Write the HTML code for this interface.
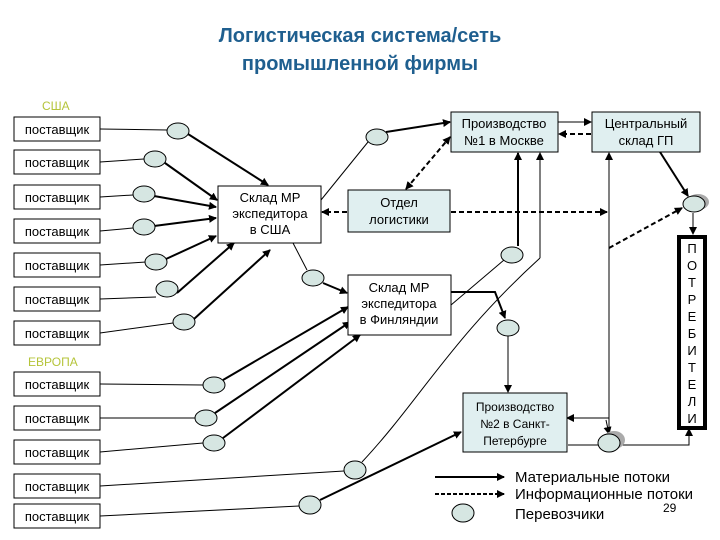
<!DOCTYPE html>
<html><head><meta charset="utf-8"><style>
body{margin:0;background:#fff}
svg{display:block}
text{font-family:"Liberation Sans",sans-serif}
</style></head><body>
<svg width="720" height="540" viewBox="0 0 720 540" xmlns="http://www.w3.org/2000/svg">
<defs>
<marker id="a" markerWidth="8" markerHeight="8" refX="7" refY="4" orient="auto" markerUnits="userSpaceOnUse"><path d="M0,0 L8,4 L0,8 z" fill="#000"/></marker>
<marker id="as" markerWidth="8" markerHeight="8" refX="1" refY="4" orient="auto" markerUnits="userSpaceOnUse"><path d="M8,0 L0,4 L8,8 z" fill="#000"/></marker>
</defs>
<rect width="720" height="540" fill="#fff"/>
<text x="360" y="42" text-anchor="middle" font-size="20" font-weight="bold" fill="#1f5f8f">Логистическая система/сеть</text>
<text x="360" y="70" text-anchor="middle" font-size="20" font-weight="bold" fill="#1f5f8f">промышленной фирмы</text>
<text x="42" y="110" font-size="12" fill="#b5c43a">США</text>
<text x="28" y="366" font-size="12" fill="#b5c43a">ЕВРОПА</text>
<g fill="#fff" stroke="#000" stroke-width="1">
<rect x="14" y="117" width="86" height="24"/><rect x="14" y="150" width="86" height="24"/>
<rect x="14" y="185" width="86" height="24"/><rect x="14" y="219" width="86" height="24"/>
<rect x="14" y="253" width="86" height="24"/><rect x="14" y="287" width="86" height="24"/>
<rect x="14" y="321" width="86" height="24"/>
<rect x="14" y="372" width="86" height="24"/><rect x="14" y="406" width="86" height="24"/>
<rect x="14" y="440" width="86" height="24"/><rect x="14" y="474" width="86" height="24"/>
<rect x="14" y="504" width="86" height="24"/>
</g>
<g font-size="13" text-anchor="middle">
<text x="57" y="134">поставщик</text><text x="57" y="167">поставщик</text>
<text x="57" y="202">поставщик</text><text x="57" y="236">поставщик</text>
<text x="57" y="270">поставщик</text><text x="57" y="304">поставщик</text>
<text x="57" y="338">поставщик</text>
<text x="57" y="389">поставщик</text><text x="57" y="423">поставщик</text>
<text x="57" y="457">поставщик</text><text x="57" y="491">поставщик</text>
<text x="57" y="521">поставщик</text>
</g>
<g stroke="#000" stroke-width="1" fill="none">
<line x1="100" y1="129" x2="167" y2="130"/><line x1="100" y1="162" x2="144" y2="159"/>
<line x1="100" y1="197" x2="133" y2="195"/><line x1="100" y1="231" x2="133" y2="228"/>
<line x1="100" y1="265" x2="146" y2="262"/><line x1="100" y1="299" x2="156" y2="297"/>
<line x1="100" y1="333" x2="173" y2="323"/>
<line x1="100" y1="384" x2="203" y2="385"/><line x1="100" y1="418" x2="195" y2="418"/>
<line x1="100" y1="452" x2="203" y2="443"/><line x1="100" y1="486" x2="344" y2="471"/>
<line x1="100" y1="516" x2="299" y2="506"/>
</g>
<g stroke="#000" stroke-width="2" fill="none" marker-end="url(#a)">
<line x1="188" y1="134" x2="268" y2="185"/>
<line x1="165" y1="163" x2="217" y2="200"/>
<line x1="154" y1="196" x2="216" y2="207"/>
<line x1="154" y1="226" x2="216" y2="218"/>
<line x1="166" y1="259" x2="216" y2="236"/>
<line x1="177" y1="293" x2="234" y2="243"/>
<line x1="194" y1="319" x2="270" y2="250"/>
<line x1="386" y1="132" x2="450" y2="122"/>
<line x1="323" y1="283" x2="347" y2="293"/>
<line x1="223" y1="380" x2="348" y2="307"/>
<line x1="215" y1="413" x2="350" y2="322"/>
<line x1="223" y1="438" x2="360" y2="335"/>
<line x1="320" y1="500" x2="461" y2="432"/>
<line x1="518" y1="246" x2="518" y2="153"/>
<line x1="660" y1="152" x2="688" y2="196"/>
<polyline points="451,292 495,292 505,318"/>
</g>
<g stroke="#000" stroke-width="1" fill="none">
<line x1="321" y1="200" x2="368" y2="142"/>
<line x1="293" y1="243" x2="307" y2="270"/>
<line x1="451" y1="305" x2="504" y2="260"/>
<path d="M362,462 C420,400 450,340 540,258"/>
<line x1="540" y1="258" x2="540" y2="153" marker-end="url(#a)"/>
<line x1="558" y1="122" x2="591" y2="122" marker-end="url(#a)"/>
<line x1="508" y1="336" x2="508" y2="392" marker-end="url(#a)"/>
<line x1="609" y1="430" x2="609" y2="153" marker-end="url(#a)"/>
<line x1="609" y1="418" x2="567" y2="418" marker-end="url(#a)"/>
<line x1="606" y1="420" x2="609" y2="434" marker-end="url(#a)"/>
<line x1="568" y1="445" x2="598" y2="445"/>
<polyline points="620,445 689,445 689,429" marker-end="url(#a)"/>
<line x1="693" y1="213" x2="693" y2="234" marker-end="url(#a)"/>
</g>
<g stroke="#000" stroke-width="2" stroke-dasharray="5,3" fill="none">
<line x1="591" y1="134" x2="559" y2="134" marker-end="url(#a)"/>
<line x1="406" y1="189" x2="450" y2="137" marker-start="url(#as)" marker-end="url(#a)"/>
<line x1="347" y1="212" x2="322" y2="212" marker-end="url(#a)"/>
<line x1="451" y1="212" x2="607" y2="212" marker-end="url(#a)"/>
<line x1="609" y1="248" x2="682" y2="208" marker-end="url(#a)"/>
</g>
<rect x="218" y="186" width="103" height="57" fill="#fff" stroke="#000"/>
<text font-size="13" text-anchor="middle"><tspan x="270" y="202">Склад МР</tspan><tspan x="270" y="218">экспедитора</tspan><tspan x="270" y="234">в США</tspan></text>
<rect x="348" y="275" width="103" height="60" fill="#fff" stroke="#000"/>
<text font-size="13" text-anchor="middle"><tspan x="399" y="292">Склад МР</tspan><tspan x="399" y="308">экспедитора</tspan><tspan x="399" y="324">в Финляндии</tspan></text>
<rect x="451" y="112" width="107" height="40" fill="#e0eff0" stroke="#000"/>
<text font-size="13" text-anchor="middle"><tspan x="504" y="128">Производство</tspan><tspan x="504" y="145">№1 в Москве</tspan></text>
<rect x="592" y="112" width="108" height="40" fill="#e0eff0" stroke="#000"/>
<text font-size="13" text-anchor="middle"><tspan x="646" y="128">Центральный</tspan><tspan x="646" y="145">склад ГП</tspan></text>
<rect x="348" y="190" width="102" height="42" fill="#e0eff0" stroke="#000"/>
<text font-size="13" text-anchor="middle"><tspan x="399" y="207">Отдел</tspan><tspan x="399" y="224">логистики</tspan></text>
<rect x="463" y="393" width="104" height="59" fill="#e0eff0" stroke="#000"/>
<text font-size="12" text-anchor="middle"><tspan x="515" y="411">Производство</tspan><tspan x="515" y="428">№2 в Санкт-</tspan><tspan x="515" y="445">Петербурге</tspan></text>
<rect x="679" y="237" width="26" height="191" fill="#fff" stroke="#000" stroke-width="4"/>
<text font-size="13" text-anchor="middle" fill="#000">
<tspan x="692" y="253">П</tspan><tspan x="692" y="270">О</tspan><tspan x="692" y="287">Т</tspan><tspan x="692" y="304">Р</tspan><tspan x="692" y="321">Е</tspan><tspan x="692" y="338">Б</tspan><tspan x="692" y="355">И</tspan><tspan x="692" y="372">Т</tspan><tspan x="692" y="389">Е</tspan><tspan x="692" y="406">Л</tspan><tspan x="692" y="423">И</tspan>
</text>
<ellipse cx="698" cy="202" rx="11" ry="8" fill="#aaa"/>
<ellipse cx="614" cy="440" rx="11" ry="9" fill="#aaa"/>
<g fill="#d6e6e2" stroke="#000" stroke-width="1">
<ellipse cx="178" cy="131" rx="11" ry="8"/><ellipse cx="155" cy="159" rx="11" ry="8"/>
<ellipse cx="144" cy="194" rx="11" ry="8"/><ellipse cx="144" cy="227" rx="11" ry="8"/>
<ellipse cx="156" cy="262" rx="11" ry="8"/><ellipse cx="167" cy="289" rx="11" ry="8"/>
<ellipse cx="184" cy="322" rx="11" ry="8"/>
<ellipse cx="214" cy="385" rx="11" ry="8"/><ellipse cx="206" cy="418" rx="11" ry="8"/>
<ellipse cx="214" cy="443" rx="11" ry="8"/><ellipse cx="355" cy="470" rx="11" ry="9"/>
<ellipse cx="310" cy="505" rx="11" ry="9"/>
<ellipse cx="377" cy="137" rx="11" ry="8"/><ellipse cx="313" cy="278" rx="11" ry="8"/>
<ellipse cx="508" cy="328" rx="11" ry="8"/><ellipse cx="512" cy="255" rx="11" ry="8"/>
<ellipse cx="694" cy="204" rx="11" ry="8"/><ellipse cx="609" cy="443" rx="11" ry="9"/>
<ellipse cx="463" cy="513" rx="11" ry="9"/>
</g>
<line x1="435" y1="477" x2="504" y2="477" stroke="#000" stroke-width="2" marker-end="url(#a)"/>
<line x1="435" y1="494" x2="504" y2="494" stroke="#000" stroke-width="2" stroke-dasharray="4,2" marker-end="url(#a)"/>
<text x="515" y="482" font-size="15">Материальные потоки</text>
<text x="515" y="499" font-size="15">Информационные потоки</text>
<text x="515" y="519" font-size="15">Перевозчики</text>
<text x="663" y="512" font-size="12">29</text>
</svg>
</body></html>
